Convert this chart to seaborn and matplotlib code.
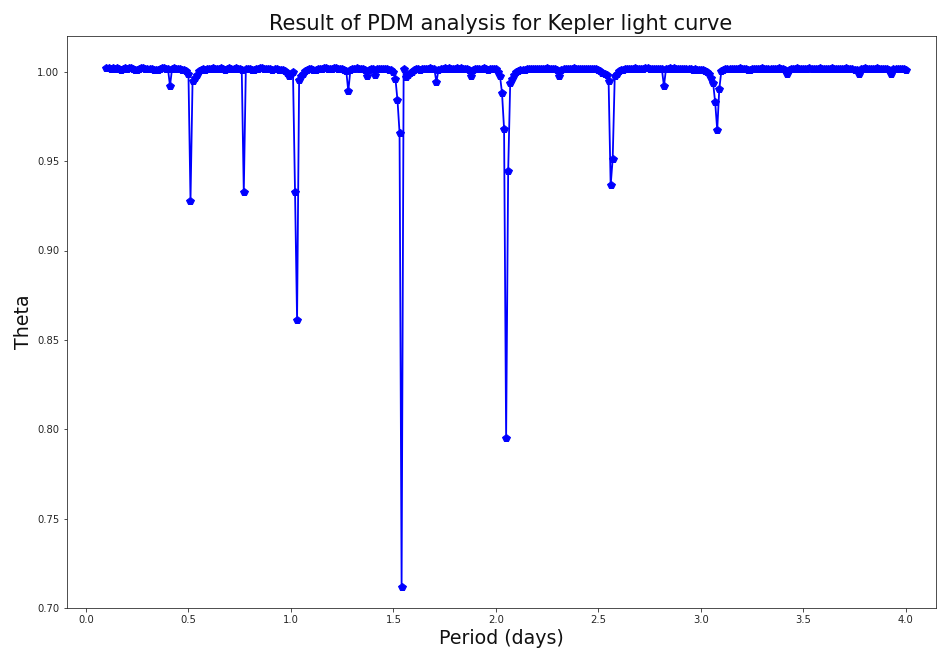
import numpy as np
import pandas as pd
import matplotlib
matplotlib.use("Agg")
import matplotlib.pyplot as plt
import seaborn as sns

# Trial periods of the PDM scan (days)
period_start = 0.10
period_stop = 4.00
period_step = 0.01

# PDM theta statistic for each trial period, 0.10 ... 4.00 d
theta = [
    1.0019, 1.0020, 1.0018, 1.0019, 1.0017, 1.0020, 1.0018, 1.0008, 1.0016, 1.0019,  # 0.10-0.19
    1.0018, 1.0020, 1.0019, 1.0017, 1.0010, 1.0008, 1.0015, 1.0019, 1.0020, 1.0018,  # 0.20-0.29
    1.0016, 1.0018, 1.0014, 1.0009, 1.0007, 1.0012, 1.0018, 1.0020, 1.0019, 1.0018,  # 0.30-0.39
    1.0017, 0.9920, 1.0018, 1.0019, 1.0017, 1.0016, 1.0014, 1.0012, 1.0008, 1.0002,  # 0.40-0.49
    0.9990, 0.9278, 0.9946, 0.9966, 0.9980, 1.0005, 1.0012, 1.0015, 1.0010, 1.0017,  # 0.50-0.59
    1.0018, 1.0016, 1.0019, 1.0014, 1.0018, 1.0017, 1.0020, 1.0015, 1.0012, 1.0018,  # 0.60-0.69
    1.0019, 1.0017, 1.0016, 1.0020, 1.0018, 1.0015, 1.0012, 0.9325, 1.0014, 1.0018,  # 0.70-0.79
    1.0016, 1.0010, 1.0007, 1.0015, 1.0018, 1.0019, 1.0020, 1.0017, 1.0015, 1.0018,  # 0.80-0.89
    1.0016, 1.0012, 1.0018, 1.0014, 1.0010, 1.0012, 1.0008, 1.0002, 0.9995, 0.9974,  # 0.90-0.99
    0.9988, 0.9996, 0.9330, 0.8610, 0.9955, 0.9974, 0.9990, 1.0005, 1.0012, 1.0015,  # 1.00-1.09
    1.0016, 1.0012, 1.0010, 1.0014, 1.0018, 1.0017, 1.0019, 1.0020, 1.0018, 1.0015,  # 1.10-1.19
    1.0018, 1.0019, 1.0020, 1.0017, 1.0015, 1.0018, 1.0012, 1.0005, 0.9890, 1.0010,  # 1.20-1.29
    1.0016, 1.0018, 1.0019, 1.0017, 1.0018, 1.0015, 1.0012, 0.9974, 1.0012, 1.0016,  # 1.30-1.39
    1.0014, 0.9980, 1.0015, 1.0018, 1.0017, 1.0016, 1.0018, 1.0015, 1.0012, 1.0008,  # 1.40-1.49
    0.9996, 0.9960, 0.9840, 0.9660, 0.7120, 1.0017, 0.9970, 0.9980, 0.9992, 1.0000,  # 1.50-1.59
    1.0008, 1.0015, 1.0018, 1.0012, 1.0016, 1.0017, 1.0014, 1.0018, 1.0019, 1.0016,  # 1.60-1.69
    1.0013, 0.9942, 1.0012, 1.0016, 1.0018, 1.0019, 1.0017, 1.0020, 1.0018, 1.0016,  # 1.70-1.79
    1.0018, 1.0019, 1.0017, 1.0020, 1.0018, 1.0016, 1.0015, 1.0010, 0.9974, 1.0012,  # 1.80-1.89
    1.0017, 1.0018, 1.0015, 1.0017, 1.0019, 1.0016, 1.0012, 1.0015, 1.0018, 1.0014,  # 1.90-1.99
    1.0017, 1.0000, 0.9978, 0.9880, 0.9680, 0.7950, 0.9446, 0.9937, 0.9960, 0.9980,  # 2.00-2.09
    1.0000, 1.0005, 1.0010, 1.0012, 1.0010, 1.0014, 1.0016, 1.0015, 1.0017, 1.0016,  # 2.10-2.19
    1.0015, 1.0017, 1.0016, 1.0018, 1.0017, 1.0019, 1.0018, 1.0016, 1.0017, 1.0015,  # 2.20-2.29
    1.0012, 0.9974, 1.0010, 1.0016, 1.0018, 1.0017, 1.0016, 1.0018, 1.0019, 1.0017,  # 2.30-2.39
    1.0018, 1.0016, 1.0015, 1.0017, 1.0018, 1.0016, 1.0017, 1.0015, 1.0016, 1.0014,  # 2.40-2.49
    1.0008, 1.0003, 0.9995, 0.9990, 0.9980, 0.9946, 0.9364, 0.9513, 0.9975, 0.9990,  # 2.50-2.59
    1.0005, 1.0010, 1.0012, 1.0015, 1.0017, 1.0016, 1.0018, 1.0017, 1.0019, 1.0018,  # 2.60-2.69
    1.0016, 1.0018, 1.0017, 1.0019, 1.0020, 1.0018, 1.0016, 1.0018, 1.0017, 1.0015,  # 2.70-2.79
    1.0016, 1.0014, 0.9920, 1.0015, 1.0018, 1.0019, 1.0017, 1.0020, 1.0018, 1.0016,  # 2.80-2.89
    1.0018, 1.0016, 1.0017, 1.0015, 1.0018, 1.0016, 1.0012, 1.0015, 1.0010, 1.0012,  # 2.90-2.99
    1.0008, 1.0012, 1.0005, 1.0000, 0.9985, 0.9965, 0.9937, 0.9828, 0.9675, 0.9903,  # 3.00-3.09
    1.0003, 1.0012, 1.0015, 1.0017, 1.0016, 1.0018, 1.0015, 1.0014, 1.0017, 1.0019,  # 3.10-3.19
    1.0016, 1.0018, 1.0015, 1.0012, 1.0010, 1.0016, 1.0018, 1.0017, 1.0015, 1.0018,  # 3.20-3.29
    1.0019, 1.0017, 1.0015, 1.0018, 1.0016, 1.0013, 1.0018, 1.0017, 1.0019, 1.0016,  # 3.30-3.39
    1.0015, 1.0010, 0.9990, 1.0012, 1.0016, 1.0018, 1.0017, 1.0019, 1.0016, 1.0015,  # 3.40-3.49
    1.0017, 1.0018, 1.0016, 1.0019, 1.0018, 1.0017, 1.0015, 1.0018, 1.0019, 1.0017,  # 3.50-3.59
    1.0018, 1.0016, 1.0015, 1.0017, 1.0019, 1.0018, 1.0016, 1.0017, 1.0015, 1.0018,  # 3.60-3.69
    1.0017, 1.0019, 1.0018, 1.0016, 1.0015, 1.0010, 1.0012, 0.9990, 1.0017, 1.0018,  # 3.70-3.79
    1.0019, 1.0018, 1.0016, 1.0017, 1.0015, 1.0018, 1.0019, 1.0017, 1.0016, 1.0018,  # 3.80-3.89
    1.0017, 1.0016, 1.0010, 0.9990, 1.0014, 1.0017, 1.0018, 1.0016, 1.0015, 1.0013,  # 3.90-3.99
    1.0008,                                                                          # 4.00
]

n_trials = int(round((period_stop - period_start) / period_step)) + 1
periods = np.round(period_start + period_step * np.arange(n_trials), 2)

df = pd.DataFrame({"Period (days)": periods, "Theta": theta})

sns.set_style("ticks")
plt.rcParams["font.family"] = ["DejaVu Sans"]

fig = plt.figure(figsize=(937 / 72, 648 / 72), dpi=72)
ax = fig.add_axes([66.5 / 937, 40 / 648, 869 / 937, 572 / 648])

sns.lineplot(
    data=df, x="Period (days)", y="Theta", ax=ax,
    color="blue", marker="p", markersize=8,
    markeredgecolor="blue", markeredgewidth=1,
    linewidth=1.8, estimator=None, sort=False,
)

ax.set_xlim(-0.095, 4.145)
ax.set_ylim(0.70, 1.02)
ax.set_xticks([0.0, 0.5, 1.0, 1.5, 2.0, 2.5, 3.0, 3.5, 4.0])
ax.set_yticks([0.70, 0.75, 0.80, 0.85, 0.90, 0.95, 1.00])
ax.set_yticklabels(["0.70", "0.75", "0.80", "0.85", "0.90", "0.95", "1.00"])
ax.tick_params(labelsize=10)

ax.set_title("Result of PDM analysis for Kepler light curve", fontsize=21, color="#111111")
ax.set_xlabel("Period (days)", fontsize=19, color="#111111")
ax.set_ylabel("Theta", fontsize=19, color="#111111")

fig.savefig("out.png", dpi=72)
